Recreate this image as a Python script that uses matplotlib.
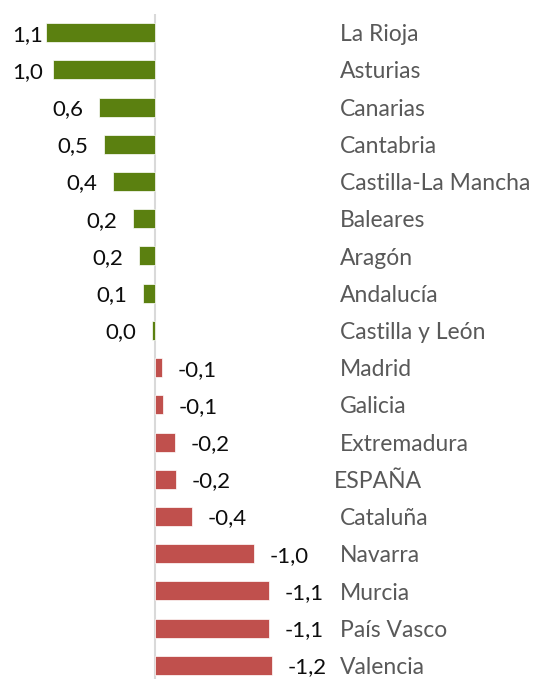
import matplotlib
matplotlib.use("Agg")
import matplotlib.pyplot as plt
import matplotlib.transforms as mtransforms

regions = ["La Rioja", "Asturias", "Canarias", "Cantabria", "Castilla-La Mancha",
           "Baleares", "Aragón", "Andalucía", "Castilla y León", "Madrid",
           "Galicia", "Extremadura", "ESPAÑA", "Cataluña", "Navarra",
           "Murcia", "País Vasco", "Valencia"]
values = [1.09, 1.02, 0.56, 0.51, 0.42, 0.22, 0.16, 0.12, 0.03, -0.07,
          -0.08, -0.20, -0.21, -0.37, -0.99, -1.14, -1.14, -1.17]

green = "#5b8010"
red = "#c0504d"

plt.rcParams["font.family"] = ["Lato", "DejaVu Sans"]

fig = plt.figure(figsize=(5.34, 6.79), dpi=100)
ax = fig.add_axes([0, -5 / 679, 1, 670 / 679])

ypos = list(range(len(regions)))
colors = [green if v > 0 else red for v in values]
ax.barh(ypos, values, height=0.51, color=colors, edgecolor="white", linewidth=0.5)

# zero at x=155px, ~100px per unit, positive to the left
ax.set_xlim(155 / 100, -(534 - 155) / 100)
ax.set_ylim(len(regions) - 0.5, -0.5)
ax.axvline(0, color="#d9d9d9", linewidth=1.5, zorder=0)

renderer = fig.canvas.get_renderer()
for y, v in zip(ypos, values):
    txt = f"{v:.1f}".replace(".", ",")
    if v > 0:
        t = ax.annotate(txt, (v, y), xytext=(-11, -1.5), textcoords="offset points",
                        ha="right", va="center", fontsize=16, color="#0d0d0d")
        # keep labels inside the left edge like excel does
        bb = t.get_window_extent(renderer)
        if bb.x0 < 12:
            t.remove()
            ax.annotate(txt, (0, y), xycoords=("figure pixels", "data"),
                        xytext=(12, -2), textcoords="offset pixels",
                        ha="left", va="center", fontsize=16, color="#0d0d0d")
    else:
        ax.annotate(txt, (v, y), xytext=(11, -1.5), textcoords="offset points",
                    ha="left", va="center", fontsize=16, color="#0d0d0d")

trans = mtransforms.blended_transform_factory(ax.transAxes, ax.transData)
shift = mtransforms.ScaledTranslation(0, -1.5 / 72, fig.dpi_scale_trans)
for y, name in zip(ypos, regions):
    x = 334 / 534 if name == "ESPAÑA" else 340 / 534
    ax.text(x, y, name, transform=trans + shift, ha="left", va="center",
            fontsize=16.5, color="#595959")

ax.axis("off")
fig.savefig("out.png", dpi=100)
